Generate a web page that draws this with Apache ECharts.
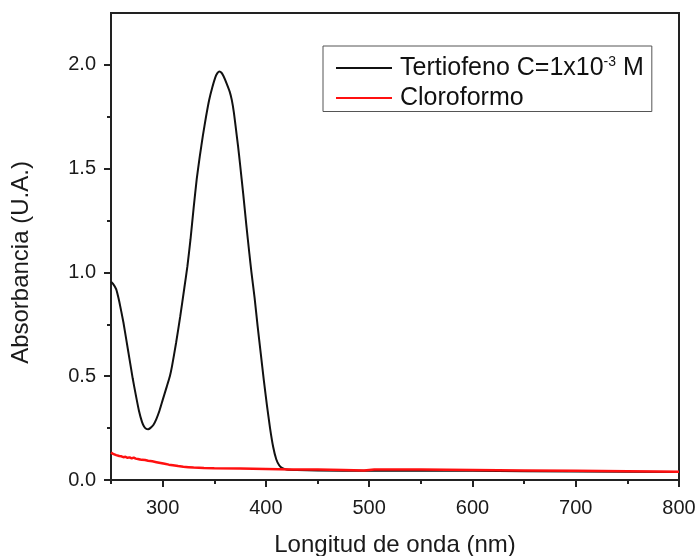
<!DOCTYPE html>
<html>
<head>
<meta charset="utf-8">
<script src="https://cdn.jsdelivr.net/npm/echarts@6/dist/echarts.min.js"></script>
<style>html,body{margin:0;padding:0;background:#fff;}#c{width:697px;height:556px;}</style>
</head>
<body>
<div id="c"></div>
<script>
// Tertiofeno absorbance spectrum [wavelength nm, absorbance]
var tertiofeno = [
  [250,0.955],[252,0.945],[255,0.92],[258,0.86],[262,0.76],[265,0.67],[268,0.58],[271,0.49],
  [274,0.41],[277,0.335],[280,0.28],[282,0.258],[284,0.247],[286,0.245],[288,0.25],[291,0.265],
  [294,0.295],[297,0.335],[300,0.385],[304,0.45],[307,0.50],[309,0.546],[313,0.66],[317,0.787],
  [321,0.925],[324,1.03],[327,1.16],[330,1.31],[333,1.45],[336,1.56],[339,1.66],[342,1.75],
  [345,1.83],[348,1.89],[351,1.94],[353,1.96],[355,1.968],[357,1.962],[359,1.945],[362,1.91],
  [365,1.87],[367,1.83],[369,1.77],[371,1.69],[373,1.61],[375,1.52],[378,1.38],[381,1.23],
  [384,1.09],[386,1.00],[389,0.88],[392,0.74],[395,0.61],[398,0.48],[401,0.36],[404,0.25],
  [407,0.16],[410,0.10],[413,0.07],[416,0.057],[420,0.051],[430,0.048],[450,0.046],[500,0.044],
  [600,0.044],[700,0.041],[800,0.038]
];
// Cloroformo (solvent) spectrum
var cloroformo = [
  [250,0.132],[252,0.126],[255,0.12],[258,0.116],[260,0.114],[262,0.11],[264,0.112],[266,0.107],
  [268,0.109],[270,0.104],[272,0.108],[274,0.103],[276,0.101],[278,0.099],[280,0.097],[283,0.096],
  [286,0.093],[290,0.09],[294,0.086],[298,0.082],[302,0.078],[306,0.074],[310,0.071],[315,0.067],
  [320,0.064],[325,0.062],[330,0.060],[340,0.058],[350,0.057],[375,0.055],[400,0.053],[425,0.051],
  [450,0.05],[475,0.048],[495,0.046],[505,0.051],[550,0.05],[600,0.048],[650,0.046],[700,0.044],
  [750,0.042],[800,0.040]
];
var xMajor = [300,400,500,600,700,800];
var xMinor = [250,350,450,550,650,750];
var yMajor = [0,0.5,1.0,1.5,2.0];
var yMinor = [0.25,0.75,1.25,1.75];
var seriesNames = ['Tertiofeno C=1x10-3 M','Cloroformo'];

var FONT = 'Liberation Sans, Arial, sans-serif';
var AX = '#222';
var chart = echarts.init(document.getElementById('c'));
chart.setOption({
  animation: false,
  backgroundColor: '#fff',
  grid: {left:111, right:18, top:13, bottom:76, containLabel:false, outerBoundsMode:'none',
    show:true, borderColor:AX, borderWidth:2, backgroundColor:'transparent'},
  legend: {
    orient:'vertical', left:323, top:46, data: seriesNames,
    padding:[9,8,1,13], itemGap:5, itemWidth:56, itemHeight:2, icon:'rect',
    borderColor:'#555', borderWidth:1,
    formatter: function(n){ return n===seriesNames[0] ? '{a|Tertiofeno C=1x10}{s|-3}{a| M}' : '{a|Cloroformo}'; },
    textStyle: {fontFamily:FONT, fontSize:25, color:'#111', padding:[0,0,0,3],
      rich:{a:{fontFamily:FONT, fontSize:25, lineHeight:26, color:'#111'}, s:{fontFamily:FONT, fontSize:14, color:'#111', verticalAlign:'top', lineHeight:14}}}
  },
  xAxis: [{
    type:'value', min:250, max:800, position:'bottom',
    axisLine:{show:true, onZero:false, lineStyle:{color:AX, width:2}},
    axisTick:{show:true, customValues:xMajor, length:7, lineStyle:{color:AX, width:2}},
    axisLabel:{customValues:xMajor, margin:18, fontSize:20, fontFamily:FONT, color:'#1a1a1a'},
    splitLine:{show:false},
    name:'Longitud de onda (nm)', nameLocation:'middle', nameGap:53,
    nameTextStyle:{fontSize:24, fontFamily:FONT, color:'#1a1a1a'}
  },{
    type:'value', min:250, max:800, position:'bottom',
    axisLine:{show:false, onZero:false},
    axisTick:{show:true, customValues:xMinor, length:4, lineStyle:{color:AX, width:2}},
    axisLabel:{show:false}, splitLine:{show:false}
  }],
  yAxis: [{
    type:'value', min:0, max:2.25, position:'left',
    axisLine:{show:true, onZero:false, lineStyle:{color:AX, width:2}},
    axisTick:{show:true, customValues:yMajor, length:7, lineStyle:{color:AX, width:2}},
    axisLabel:{customValues:yMajor, margin:15, fontSize:20, fontFamily:FONT, color:'#1a1a1a',
      formatter:function(v){return v.toFixed(1);}},
    splitLine:{show:false},
    name:'Absorbancia (U.A.)', nameLocation:'middle', nameGap:78, nameRotate:90,
    nameTextStyle:{fontSize:24, fontFamily:FONT, color:'#1a1a1a', padding:[0,32,0,0]}
  },{
    type:'value', min:0, max:2.25, position:'left',
    axisLine:{show:false, onZero:false},
    axisTick:{show:true, customValues:yMinor, length:4, lineStyle:{color:AX, width:2}},
    axisLabel:{show:false}, splitLine:{show:false}
  }],
  series: [{
    name:seriesNames[0], type:'line', data:tertiofeno, xAxisIndex:0, yAxisIndex:0,
    showSymbol:false, smooth:0.15, lineStyle:{color:'#111', width:2}, itemStyle:{color:'#111'}, z:2
  },{
    name:seriesNames[1], type:'line', data:cloroformo, xAxisIndex:0, yAxisIndex:0,
    showSymbol:false, lineStyle:{color:'#ff1010', width:2.5}, itemStyle:{color:'#ff1010'}, z:3
  }]
});
</script>
</body>
</html>
